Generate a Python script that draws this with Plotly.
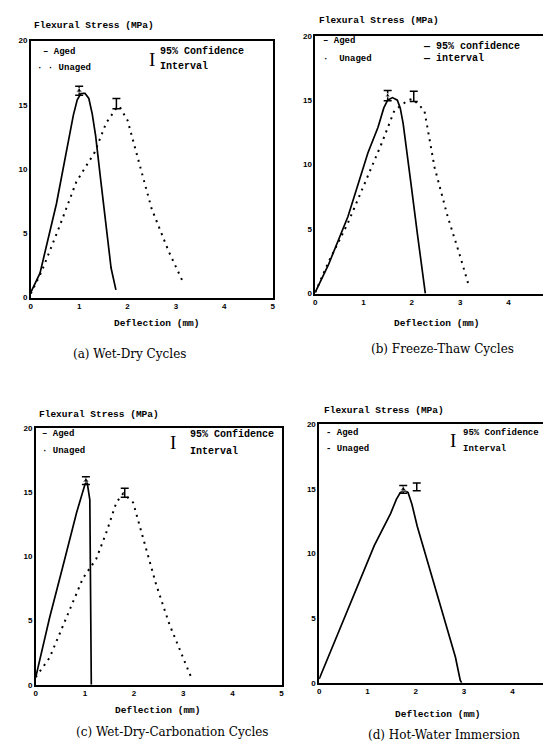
import plotly.graph_objects as go

# ---------------- data ----------------
# (a) Wet-Dry Cycles
a_aged_x = [0.0, 0.19, 0.53, 0.74, 0.88, 0.96, 1.04, 1.12, 1.2, 1.27, 1.34, 1.45, 1.56, 1.66, 1.76]
a_aged_y = [0.4, 1.9, 7.3, 11.5, 14.2, 15.4, 15.9, 15.9, 15.5, 14.3, 12.6, 9.0, 5.6, 2.3, 0.6]
a_unaged_x = [0.0, 0.22, 0.6, 0.94, 1.32, 1.56, 1.76, 1.83, 2.0, 2.24, 2.5, 2.85, 3.16]
a_unaged_y = [0.3, 2.0, 5.6, 9.0, 11.3, 13.6, 14.7, 14.9, 13.8, 10.5, 6.9, 3.6, 1.1]
a_ci_x = [1.0, 1.77]
a_ci_y = [16.1, 15.1]
a_ci_err = [0.35, 0.4]

# (b) Freeze-Thaw Cycles
b_aged_x = [0.0, 0.27, 0.68, 1.09, 1.3, 1.42, 1.5, 1.6, 1.7, 1.76, 1.82, 1.88, 1.98, 2.12, 2.26, 2.28]
b_aged_y = [0.1, 2.2, 6.0, 10.9, 12.9, 14.4, 15.0, 15.2, 15.0, 14.4, 13.2, 11.6, 8.6, 4.5, 0.6, 0.0]
b_unaged_x = [0.0, 0.27, 0.68, 1.03, 1.37, 1.64, 1.92, 2.02, 2.26, 2.47, 2.74, 3.0, 3.18]
b_unaged_y = [0.1, 2.4, 5.5, 8.6, 11.6, 14.2, 15.0, 15.1, 14.2, 9.8, 6.0, 2.9, 0.6]
b_ci_x = [1.5, 2.04]
b_ci_y = [15.35, 15.3]
b_ci_err = [0.4, 0.4]

# (c) Wet-Dry-Carbonation Cycles
c_aged_x = [0.0, 0.28, 0.59, 0.83, 1.0, 1.04, 1.1, 1.13]
c_aged_y = [0.6, 5.2, 9.8, 13.4, 15.6, 15.9, 14.4, 0.0]
c_unaged_x = [0.0, 0.28, 0.62, 0.96, 1.23, 1.44, 1.64, 1.78, 1.98, 2.18, 2.45, 2.72, 3.0, 3.16]
c_unaged_y = [0.6, 2.1, 5.2, 8.3, 9.8, 11.9, 14.2, 14.9, 14.2, 11.4, 7.8, 4.7, 2.1, 0.6]
c_ci_x = [1.02, 1.81]
c_ci_y = [15.9, 14.95]
c_ci_err = [0.3, 0.35]

# (d) Hot-Water Immersion
d_aged_x = [0.0, 0.32, 0.73, 1.14, 1.48, 1.6, 1.68, 1.76, 1.84, 1.92, 2.03, 2.3, 2.58, 2.82, 2.92, 2.95]
d_aged_y = [0.3, 3.2, 7.0, 10.6, 13.1, 14.2, 14.7, 14.9, 14.7, 13.8, 12.1, 8.6, 5.0, 2.0, 0.2, 0.0]
d_ci_x = [1.74, 2.02]
d_ci_y = [14.95, 15.15]
d_ci_err = [0.3, 0.3]

y_ticks = [0, 5, 10, 15, 20]
x_ticks = [0, 1, 2, 3, 4, 5]

y_title = "Flexural Stress (MPa)"
x_title = "Deflection (mm)"
captions = ["(a) Wet-Dry Cycles", "(b) Freeze-Thaw Cycles",
            "(c) Wet-Dry-Carbonation Cycles", "(d) Hot-Water Immersion"]

# ---------------- figure ----------------
W, H = 551, 749
fig = go.Figure()

TICK = dict(family="Liberation Sans", size=8, color="black", weight="bold")
SERIF = dict(family="DejaVu Serif", size=12, color="black")
TITLE = dict(family="Liberation Mono", size=9.5, color="black", weight="bold")
LEG = dict(family="Liberation Mono", size=9, color="black", weight="bold")
CIT = dict(family="Liberation Mono", size=10, color="black", weight="bold")
CIT_S = dict(family="Liberation Mono", size=9, color="black", weight="bold")
CI = dict(family="Liberation Serif", size=19, color="black")

panels = [
    (a_aged_x, a_aged_y, a_unaged_x, a_unaged_y, a_ci_x, a_ci_y, a_ci_err),
    (b_aged_x, b_aged_y, b_unaged_x, b_unaged_y, b_ci_x, b_ci_y, b_ci_err),
    (c_aged_x, c_aged_y, c_unaged_x, c_unaged_y, c_ci_x, c_ci_y, c_ci_err),
    (d_aged_x, d_aged_y, None, None, d_ci_x, d_ci_y, d_ci_err),
]

for i, (ax_, ay_, ux_, uy_, cx_, cy_, ce_) in enumerate(panels):
    xa = "x" if i == 0 else f"x{i+1}"
    ya = "y" if i == 0 else f"y{i+1}"
    if ux_ is not None:
        fig.add_trace(go.Scatter(x=ux_, y=uy_, xaxis=xa, yaxis=ya, mode="lines",
                                 line=dict(color="black", width=2, dash="2px,5px"),
                                 showlegend=False, hoverinfo="skip"))
    fig.add_trace(go.Scatter(x=ax_, y=ay_, xaxis=xa, yaxis=ya, mode="lines",
                             line=dict(color="black", width=1.7),
                             showlegend=False, hoverinfo="skip"))
    fig.add_trace(go.Scatter(x=cx_, y=cy_, xaxis=xa, yaxis=ya, mode="markers",
                             marker=dict(symbol="triangle-up", size=[6, 0] if i != 1 else [5, 0],
                                         color="black"),
                             error_y=dict(type="data", array=ce_, color="black",
                                          thickness=1.5, width=4),
                             showlegend=False, hoverinfo="skip"))

# axis geometry in pixels -> paper fractions
geo = [
    # x0px, x1px, y_top_px, y_bot_px, xmax
    (21, 265, 29, 289, 5.0),
    (308, 550, 24, 285, (550 - 308) / 48.75),
    (26, 274, 421, 681, 5.0),
    (312, 551, 417, 679, (551 - 312) / 48.75),
]
layout_axes = {}
for i, (x0, x1, yt, yb, xmax) in enumerate(geo):
    xk = "xaxis" if i == 0 else f"xaxis{i+1}"
    yk = "yaxis" if i == 0 else f"yaxis{i+1}"
    xa = "x" if i == 0 else f"x{i+1}"
    ya = "y" if i == 0 else f"y{i+1}"
    layout_axes[xk] = dict(domain=[x0 / W, x1 / W], range=[0, xmax], anchor=ya,
                           tickvals=x_ticks, ticktext=[str(t) for t in x_ticks],
                           showgrid=False, zeroline=False, showline=True, linecolor="black",
                           linewidth=1.5, mirror=True, ticks="", tickfont=TICK, fixedrange=True)
    layout_axes[yk] = dict(domain=[1 - yb / H, 1 - yt / H], range=[0, 20], anchor=xa,
                           tickvals=y_ticks, ticktext=[str(t) for t in y_ticks],
                           showgrid=False, zeroline=False, showline=True, linecolor="black",
                           linewidth=1.5, mirror=True, ticks="", tickfont=TICK, fixedrange=True)

ann = []
def A(x, y, text, font, xanchor="center", xref="paper", yref="paper", yanchor="middle"):
    ann.append(dict(x=x, y=y, text=text, font=font, xref=xref, yref=yref,
                    xanchor=xanchor, yanchor=yanchor, showarrow=False))

# y titles
for (px, py) in [(22, 14), (310, 9), (27, 407), (315, 403)]:
    A(px / W, 1 - py / H, y_title, TITLE, xanchor="left")
# x titles
for (px, py) in [(148, 315), (431, 315), (149, 707), (432, 711)]:
    A(px / W, 1 - py / H, x_title, TITLE)
# captions
for cap, (px, py) in zip(captions, [(121, 346), (436, 341), (164, 729), (438, 732)]):
    A(px / W, 1 - py / H, cap, SERIF)

# legends (data coordinates of each panel)
# (a)
A(0.22, 19.15, "– Aged", LEG, "left", "x", "y")
A(0.08, 17.85, "· · Unaged", LEG, "left", "x", "y")
A(2.5, 18.5, "I", CI, "center", "x", "y")
A(2.64, 19.15, "95% Confidence", CIT, "left", "x", "y")
A(2.64, 18.0, "Interval", CIT, "left", "x", "y")
# (b)
A(0.12, 19.6, "– Aged", LEG, "left", "x2", "y2")
A(0.12, 18.2, "·  Unaged", LEG, "left", "x2", "y2")
A(2.2, 19.15, "— 95% confidence", CIT, "left", "x2", "y2")
A(2.2, 18.2, "— interval", CIT, "left", "x2", "y2")
# (c)
A(0.08, 19.5, "– Aged", LEG, "left", "x3", "y3")
A(0.08, 18.2, "· Unaged", LEG, "left", "x3", "y3")
A(2.8, 18.85, "I", CI, "center", "x3", "y3")
A(3.1, 19.5, "95% Confidence", CIT, "left", "x3", "y3")
A(3.1, 18.2, "Interval", CIT, "left", "x3", "y3")
# (d)
A(0.1, 19.3, "- Aged", LEG, "left", "x4", "y4")
A(0.1, 18.1, "- Unaged", LEG, "left", "x4", "y4")
A(2.78, 18.75, "I", CI, "center", "x4", "y4")
A(2.93, 19.3, "95% Confidence", CIT_S, "left", "x4", "y4")
A(2.93, 18.1, "Interval", CIT_S, "left", "x4", "y4")

fig.update_layout(width=W, height=H, margin=dict(l=0, r=0, t=0, b=0),
                  paper_bgcolor="white", plot_bgcolor="white",
                  showlegend=False, annotations=ann, **layout_axes)

fig.write_html("out.html")
